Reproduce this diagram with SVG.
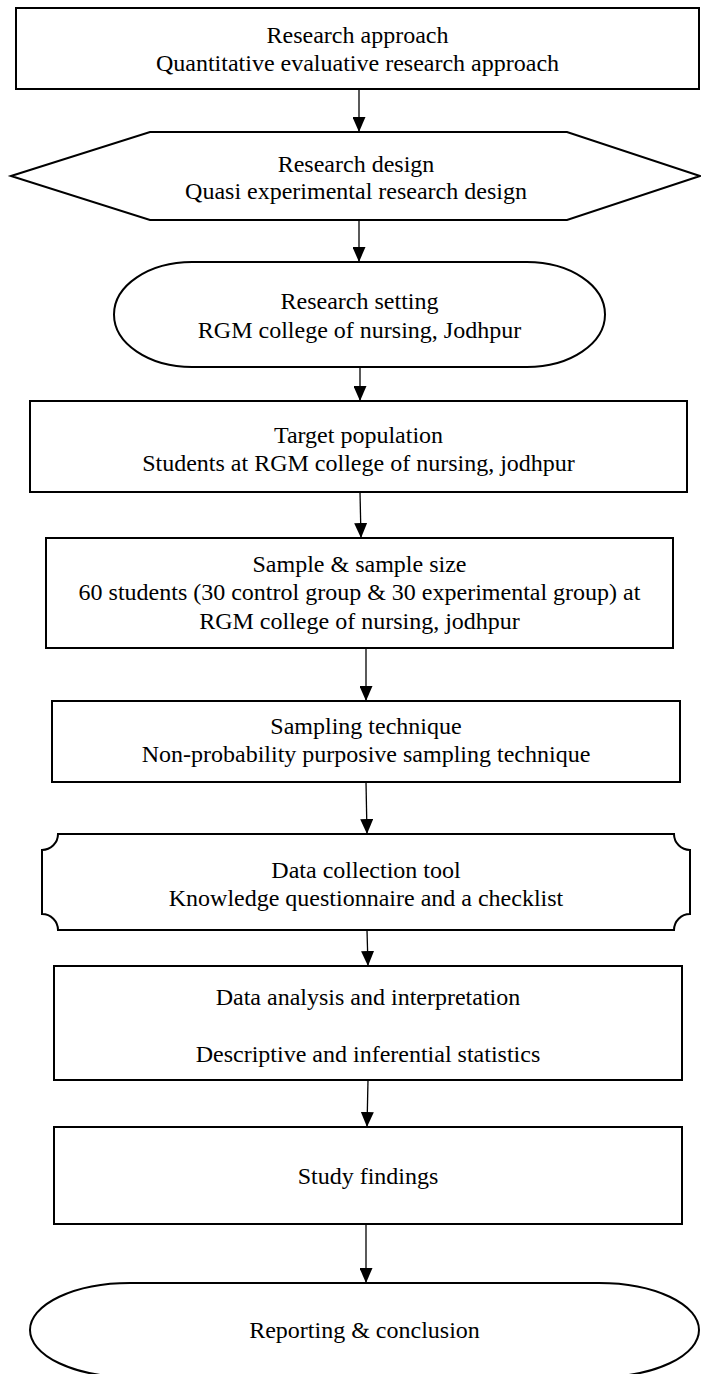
<svg xmlns="http://www.w3.org/2000/svg" width="701" height="1374" viewBox="0 0 701 1374">
<style>
.s{fill:#fff;stroke:#000;stroke-width:2}
.t{font-family:"Liberation Serif","Times New Roman",serif;font-size:24px;fill:#000;text-anchor:middle}
.c{stroke:#000;stroke-width:1.3;fill:none;marker-end:url(#ah)}
</style>
<defs>
<marker id="ah" markerUnits="userSpaceOnUse" markerWidth="15" markerHeight="13" refX="15" refY="6.5" orient="auto">
<path d="M0,0 L15,6.5 L0,13 Z" fill="#000"/>
</marker>
</defs>
<rect width="701" height="1374" fill="#fff"/>
<g id="connectors">
<line class="c" x1="359" y1="89" x2="359" y2="132"/>
<line class="c" x1="359" y1="220" x2="359" y2="262"/>
<line class="c" x1="360" y1="367" x2="360" y2="401"/>
<line class="c" x1="360" y1="492" x2="361" y2="538"/>
<line class="c" x1="366" y1="648" x2="366" y2="701"/>
<line class="c" x1="366" y1="782" x2="367" y2="834"/>
<line class="c" x1="367" y1="930" x2="368" y2="966"/>
<line class="c" x1="368" y1="1080" x2="367" y2="1127"/>
<line class="c" x1="366" y1="1224" x2="366" y2="1283"/>
</g>
<g id="n1">
<rect class="s" x="16" y="8" width="683" height="81"/>
<text class="t" x="357.5" y="43">Research approach</text>
<text class="t" x="357.5" y="71">Quantitative evaluative research approach</text>
</g>
<g id="n2">
<path class="s" d="M11,176 L150,132 L567,132 L700,176 L567,220 L150,220 Z"/>
<text class="t" x="356" y="172">Research design</text>
<text class="t" x="356" y="199">Quasi experimental research design</text>
</g>
<g id="n3">
<path class="s" d="M192,262 H527 A78,52.5 0 0 1 527,367 H192 A78,52.5 0 0 1 192,262 Z"/>
<text class="t" x="359.5" y="309">Research setting</text>
<text class="t" x="359.5" y="338">RGM college of nursing, Jodhpur</text>
</g>
<g id="n4">
<rect class="s" x="30" y="401" width="657" height="91"/>
<text class="t" x="358.5" y="443">Target population</text>
<text class="t" x="358.5" y="471">Students at RGM college of nursing, jodhpur</text>
</g>
<g id="n5">
<rect class="s" x="46" y="538" width="627" height="110"/>
<text class="t" x="359.5" y="572">Sample &amp; sample size</text>
<text class="t" x="359.5" y="600">60 students (30 control group &amp; 30 experimental group) at</text>
<text class="t" x="359.5" y="629">RGM college of nursing, jodhpur</text>
</g>
<g id="n6">
<rect class="s" x="52" y="701" width="628" height="81"/>
<text class="t" x="366" y="734">Sampling technique</text>
<text class="t" x="366" y="762">Non-probability purposive sampling technique</text>
</g>
<g id="n7">
<path class="s" d="M58,834 H674 A16,16 0 0 0 690,850 V914 A16,16 0 0 0 674,930 H58 A16,16 0 0 0 42,914 V850 A16,16 0 0 0 58,834 Z"/>
<text class="t" x="366" y="878">Data collection tool</text>
<text class="t" x="366" y="906">Knowledge questionnaire and a checklist</text>
</g>
<g id="n8">
<rect class="s" x="54" y="966" width="628" height="114"/>
<text class="t" x="368" y="1005">Data analysis and interpretation</text>
<text class="t" x="368" y="1062">Descriptive and inferential statistics</text>
</g>
<g id="n9">
<rect class="s" x="54" y="1127" width="628" height="97"/>
<text class="t" x="368" y="1184">Study findings</text>
</g>
<g id="n10">
<path class="s" d="M130,1283 H599 A100,47 0 0 1 599,1377 H130 A100,47 0 0 1 130,1283 Z"/>
<text class="t" x="364.5" y="1338">Reporting &amp; conclusion</text>
</g>
</svg>
